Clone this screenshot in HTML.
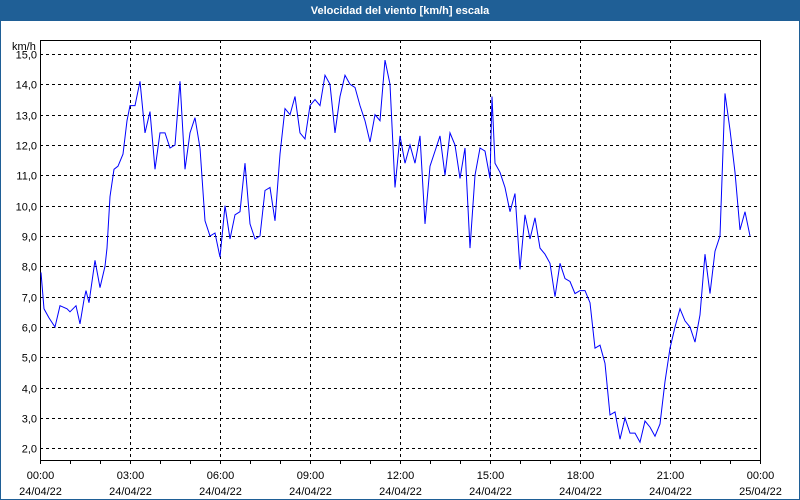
<!DOCTYPE html>
<html><head><meta charset="utf-8"><style>
html,body{margin:0;padding:0;background:#fff}
#wrap{position:relative;width:798px;height:498px;border:1px solid #1f5f96;background:#fff;overflow:hidden}
#title{position:absolute;left:0;top:0;width:798px;height:20px;background:#1f5f96;color:#fff;font:bold 11px "Liberation Sans",sans-serif;text-align:center;line-height:20px}
svg{position:absolute;left:-1px;top:-1px}
text{font-family:"Liberation Sans",sans-serif;font-size:11px;fill:#000}
</style></head><body>
<div id="wrap">
<div id="title">Velocidad del viento [km/h] escala</div>
<svg id="chart" width="800" height="500"></svg>
</div>
<script>
const timesMin=[2,8,18,30,40,54,60,72,80,88,92,98,110,120,130,134,140,148,156,166,174,180,190,200,210,220,230,240,250,260,270,280,290,300,310,320,330,340,350,360,370,380,390,400,410,420,430,440,450,460,470,480,490,500,510,520,530,540,550,560,570,580,590,600,610,620,630,640,650,660,670,680,690,700,710,720,730,740,750,760,770,780,790,800,810,820,830,840,850,860,870,880,890,900,904,910,920,930,940,950,960,970,980,990,1000,1010,1020,1030,1040,1050,1060,1070,1080,1090,1100,1110,1120,1130,1140,1150,1160,1170,1180,1190,1200,1210,1220,1230,1240,1250,1260,1270,1280,1290,1300,1310,1320,1330,1340,1350,1360,1370,1380,1390,1400,1410,1420,1430];
const speeds=[7.8,6.6,6.3,6.0,6.7,6.6,6.5,6.7,6.1,6.9,7.2,6.8,8.2,7.3,8.0,8.6,10.3,11.2,11.3,11.7,12.8,13.3,13.3,14.1,12.4,13.1,11.2,12.4,12.4,11.9,12.0,14.1,11.2,12.4,12.9,11.9,9.5,9.0,9.1,8.3,10.0,8.9,9.7,9.8,11.4,9.4,8.9,9.0,10.5,10.6,9.5,11.7,13.2,13.0,13.6,12.4,12.2,13.3,13.5,13.3,14.3,14.0,12.4,13.6,14.3,14.0,13.9,13.3,12.8,12.1,13.0,12.8,14.8,14.0,10.6,12.3,11.4,12.0,11.4,12.3,9.4,11.3,11.8,12.3,11.0,12.4,12.0,10.9,11.9,8.6,11.0,11.9,11.8,10.9,13.6,11.4,11.1,10.6,9.8,10.4,7.9,9.7,8.9,9.6,8.6,8.4,8.1,7.0,8.1,7.6,7.5,7.1,7.2,7.2,6.8,5.3,5.4,4.8,3.1,3.2,2.3,3.0,2.5,2.5,2.2,2.9,2.7,2.4,2.8,4.2,5.3,6.0,6.6,6.2,6.0,5.5,6.4,8.4,7.1,8.5,9.0,13.7,12.5,11.1,9.2,9.8,9.0];
const yTicks=[2,3,4,5,6,7,8,9,10,11,12,13,14,15];
const xTickLabels=["00:00","03:00","06:00","09:00","12:00","15:00","18:00","21:00","00:00"];
const xDateLabels=["24/04/22","24/04/22","24/04/22","24/04/22","24/04/22","24/04/22","24/04/22","24/04/22","25/04/22"];
const L=40,R=760,T=40,B=460;
const xs=m=>L+(m/1440)*(R-L);
const ys=v=>448.3-(v-2)*30.33;
const svg=document.getElementById('chart');
const NS='http://www.w3.org/2000/svg';
function mk(tag,attrs){const e=document.createElementNS(NS,tag);for(const k in attrs)e.setAttribute(k,attrs[k]);svg.appendChild(e);return e;}
yTicks.forEach(v=>{
 const y=Math.round(ys(v))+0.5;
 const g=mk('line',{x1:L,x2:R,y1:y,y2:y,stroke:'#000','stroke-dasharray':'3,3','stroke-width':1});
 
 
 const t=mk('text',{x:37,y:y+4,'text-anchor':'end'});
 t.textContent=v.toFixed(1).replace('.',',');
 
 
});
xTickLabels.forEach((lab,i)=>{
 const x=Math.round(xs(i*180))+0.5;
 if(i>0&&i<8){const g=mk('line',{x1:x,x2:x,y1:T,y2:B,stroke:'#000','stroke-dasharray':'3,3'});
 
 }
 const t=mk('text',{x:x,y:479,'text-anchor':'middle'});
 t.textContent=lab;
 
 
 const d=mk('text',{x:x,y:495,'text-anchor':'middle'});
 d.textContent=xDateLabels[i];
 
 
});
for(let h=0;h<=24;h++){
 const x=Math.round(xs(h*60))+0.5;
 const tk=mk('line',{x1:x,x2:x,y1:B,y2:B+4,stroke:'#000'});
 
 
}
const fr=mk('rect',{x:L+0.5,y:T+0.5,width:R-L,height:B-T,fill:'none',stroke:'#000'});


const u=mk('text',{x:12,y:50});
u.textContent='km/h';


const pts=timesMin.map((m,i)=>xs(m).toFixed(1)+','+ys(speeds[i]).toFixed(1)).join(' ');
const pl=mk('polyline',{points:pts,fill:'none',stroke:'#0000ff','stroke-width':1});


</script>
</body></html>
